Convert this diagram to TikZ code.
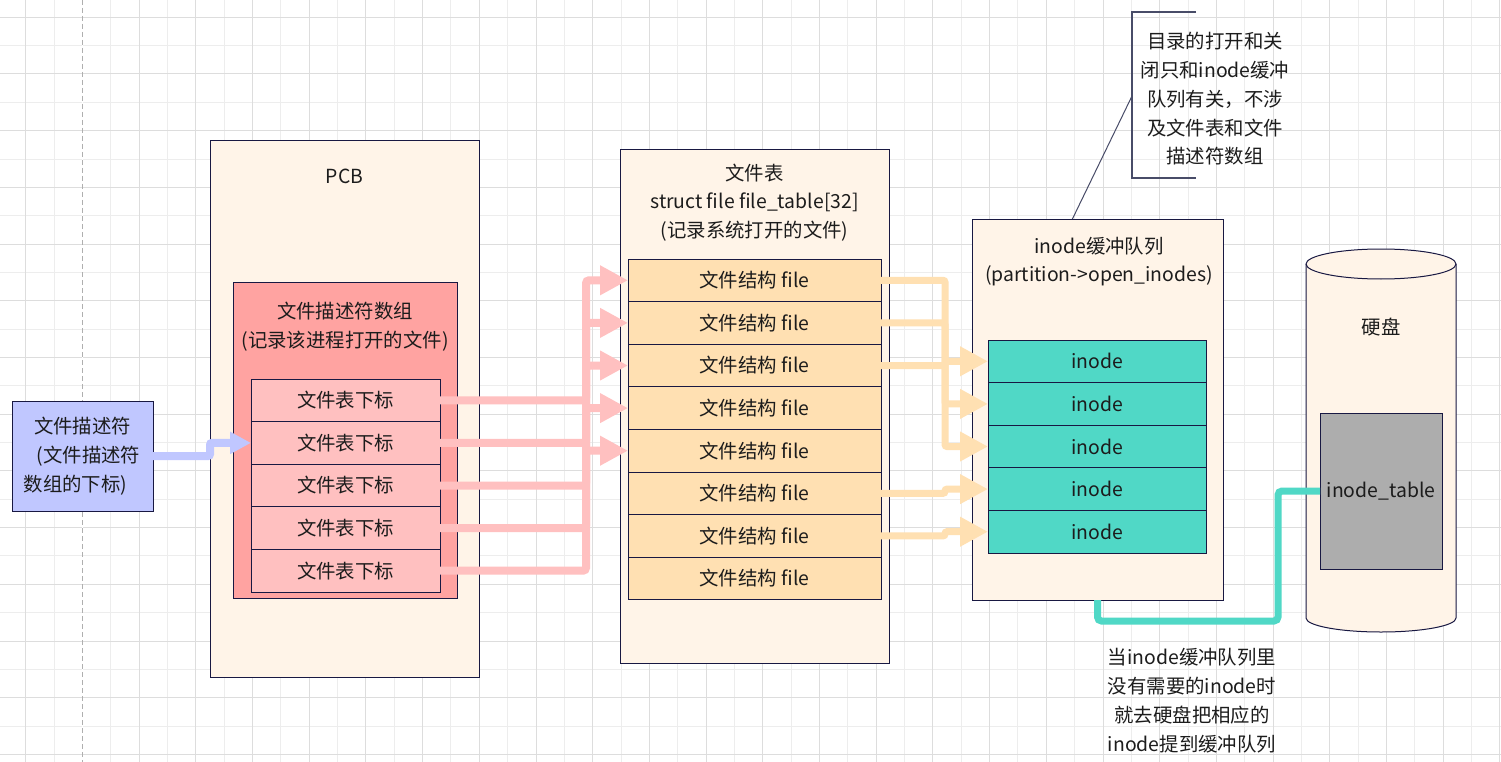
\documentclass[tikz,border=0pt]{standalone}
\usepackage{fontspec}
\setmainfont{Noto Sans CJK SC}
\usepackage{xcolor}
\usepackage{tikz}
\usetikzlibrary{arrows.meta, positioning, calc}
\definecolor{gridlight}{RGB}{237,237,237}
\definecolor{griddark}{RGB}{221,221,221}
\definecolor{pagebreak}{RGB}{175,175,175}
\definecolor{edgenavy}{RGB}{24,24,66}
\definecolor{inkdark}{RGB}{28,28,28}
\definecolor{cream}{RGB}{255,244,232}
\definecolor{salmon}{RGB}{255,163,161}
\definecolor{rosepink}{RGB}{255,192,192}
\definecolor{peach}{RGB}{255,224,178}
\definecolor{inodeteal}{RGB}{80,216,198}
\definecolor{diskgrey}{RGB}{173,173,173}
\definecolor{fdblue}{RGB}{192,199,255}
\definecolor{noteslate}{RGB}{72,76,104}

\begin{document}
\begin{tikzpicture}[x=1pt, y=-1pt,
    every node/.style={font=\fontsize{19.4}{28.8}\selectfont, text=inkdark, inner sep=0pt},
    box/.style={draw=edgenavy, line width=1pt, outer sep=0pt, align=center},
    frame/.style={box, fill=cream},
    idxrow/.style={box, fill=rosepink, minimum width=189pt, minimum height=42.6pt},
    filerow/.style={box, fill=peach, minimum width=253pt, minimum height=42.6pt},
    inoderow/.style={box, fill=inodeteal, minimum width=218pt, minimum height=42.6pt},
    caption/.style={align=center},
    pinkflow/.style={rosepink, line width=8pt, rounded corners=3pt, -{Triangle[length=28pt, width=28pt]}},
    fileflow/.style={peach, line width=7pt, rounded corners=2pt, -{Triangle[length=28pt, width=28pt]}},
    fdflow/.style={fdblue, line width=8pt, rounded corners=2pt, -{Triangle[length=21pt, width=21pt]}},
    tealflow/.style={inodeteal, line width=7pt, rounded corners=4pt},
    notebracket/.style={noteslate, line width=1.2pt},
    noteline/.style={noteslate, line width=1pt}]
    \useasboundingbox (0,0) rectangle (1501,762);
    \fill[white] (0,0) rectangle (1501,762);

    % grid of the drawing page
    \foreach \gx in {54.05,110.75,...,1501} \draw[gridlight, line width=1pt] (\gx,0) -- (\gx,762);
    \foreach \gy in {45.65,102.35,...,762} \draw[gridlight, line width=1pt] (0,\gy) -- (1501,\gy);
    \foreach \gx in {25.7,82.4,...,1501} \draw[griddark, line width=1pt] (\gx,0) -- (\gx,762);
    \foreach \gy in {17.3,74,...,762} \draw[griddark, line width=1pt] (0,\gy) -- (1501,\gy);
    \draw[white, line width=1.2pt] (82.4,0) -- (82.4,762);
    \draw[pagebreak, line width=1pt, dash pattern=on 5pt off 3pt] (82.4,0) -- (82.4,762);

    % process side
    \node[box, fill=fdblue, minimum width=141pt, minimum height=110pt] (fd) at (82.5,456)
        {文件描述符\\ \hspace*{12pt}(文件描述符\\数组的下标)\hspace*{14pt}};
    \node[frame, minimum width=269pt, minimum height=536pt] (pcb) at (344.5,409) {};
    \node[caption] (pcbtitle) at (344.5,176) {PCB};
    \node[box, fill=salmon, minimum width=224pt, minimum height=316pt] (fdarr) at (345,440) {};
    \node[caption] (fdarrtitle) at (345,327) {文件描述符数组\\(记录该进程打开的文件)};
    \node[idxrow] (idx1) at (345.5,400.3) {文件表下标};
    \node[idxrow, below=0pt of idx1] (idx2) {文件表下标};
    \node[idxrow, below=0pt of idx2] (idx3) {文件表下标};
    \node[idxrow, below=0pt of idx3] (idx4) {文件表下标};
    \node[idxrow, below=0pt of idx4] (idx5) {文件表下标};

    % system file table
    \node[frame, minimum width=269pt, minimum height=513pt] (ftab) at (754.5,406.5) {};
    \node[caption] (ftabtitle) at (754.5,202.5) {文件表\\struct file file\_table[32]\\(记录系统打开的文件)};
    \node[filerow] (file1) at (754.5,280.3) {文件结构 file};
    \node[filerow, below=0pt of file1] (file2) {文件结构 file};
    \node[filerow, below=0pt of file2] (file3) {文件结构 file};
    \node[filerow, below=0pt of file3] (file4) {文件结构 file};
    \node[filerow, below=0pt of file4] (file5) {文件结构 file};
    \node[filerow, below=0pt of file5] (file6) {文件结构 file};
    \node[filerow, below=0pt of file6] (file7) {文件结构 file};
    \node[filerow, below=0pt of file7] (file8) {文件结构 file};

    % inode queue
    \node[frame, minimum width=251pt, minimum height=381pt] (ibuf) at (1097.5,409.5) {};
    \node[caption] (ibuftitle) at (1099,261.5) {inode缓冲队列\\(partition->open\_inodes)};
    \node[inoderow] (inode1) at (1097,361.3) {inode};
    \node[inoderow, below=0pt of inode1] (inode2) {inode};
    \node[inoderow, below=0pt of inode2] (inode3) {inode};
    \node[inoderow, below=0pt of inode3] (inode4) {inode};
    \node[inoderow, below=0pt of inode4] (inode5) {inode};

    % disk
    \draw[edgenavy, fill=cream, line width=1pt] (1306,264) -- (1306,618)
        arc[start angle=180, end angle=0, x radius=75, y radius=14] -- (1456,264)
        arc[start angle=0, end angle=-180, x radius=75, y radius=15] -- cycle;
    \draw[edgenavy, line width=1pt] (1456,264) arc[start angle=0, end angle=180, x radius=75, y radius=15];
    \node[caption] (disktitle) at (1381,327) {硬盘};
    \node[box, fill=diskgrey, minimum width=122pt, minimum height=156pt] (itab) at (1381,491) {inode\_table};

    % connectors
    \coordinate (pinkbus) at (586,0);
    \coordinate (filebus) at (945,0);
    \coordinate (tealbus) at (1278,621);
    \draw[fdflow] (fd.east) -- (fd.east -| pcb.west) -- (idx2.west -| pcb.west) -- (idx2.west);
    \draw[pinkflow] (idx1.east) -- (idx1.east -| pinkbus) -- (file1.west -| pinkbus) -- (file1.west);
    \draw[pinkflow] (idx2.east) -- (idx2.east -| pinkbus) -- (file2.west -| pinkbus) -- (file2.west);
    \draw[pinkflow] (idx3.east) -- (idx3.east -| pinkbus) -- (file3.west -| pinkbus) -- (file3.west);
    \draw[pinkflow] (idx4.east) -- (idx4.east -| pinkbus) -- (file4.west -| pinkbus) -- (file4.west);
    \draw[pinkflow] (idx5.east) -- (idx5.east -| pinkbus) -- (file5.west -| pinkbus) -- (file5.west);
    \draw[fileflow] (file1.east) -- (file1.east -| filebus) -- (inode2.west -| filebus) -- (inode2.west);
    \draw[fileflow] (file2.east) -- (file2.east -| filebus) -- (inode3.west -| filebus) -- (inode3.west);
    \draw[fileflow] (file3.east) -- (file3.east -| filebus) -- (inode1.west -| filebus) -- (inode1.west);
    \draw[fileflow] (file6.east) -- (file6.east -| filebus) -- (inode4.west -| filebus) -- (inode4.west);
    \draw[fileflow] (file7.east) -- (file7.east -| filebus) -- (inode5.west -| filebus) -- (inode5.west);
    \draw[tealflow] (ibuf.south) -- (ibuf.south |- tealbus) -- (tealbus) -- (tealbus |- itab.west) -- (itab.west);

    % notes
    \coordinate (notehook) at (1132,96);
    \draw[notebracket] (1196,12) -| (1132,178) -- (1196,178);
    \node[caption] (note) at (1215,99) {目录的打开和关\\闭只和inode缓冲\\队列有关，不涉\\及文件表和文件\\描述符数组};
    \draw[noteline] ($(ibuf.north west)!0.4!(ibuf.north east)$) -- (notehook);
    \node[caption] (loadnote) at (1192,700.5) {当inode缓冲队列里\\没有需要的inode时\\就去硬盘把相应的\\inode提到缓冲队列};
\end{tikzpicture}
\end{document}
